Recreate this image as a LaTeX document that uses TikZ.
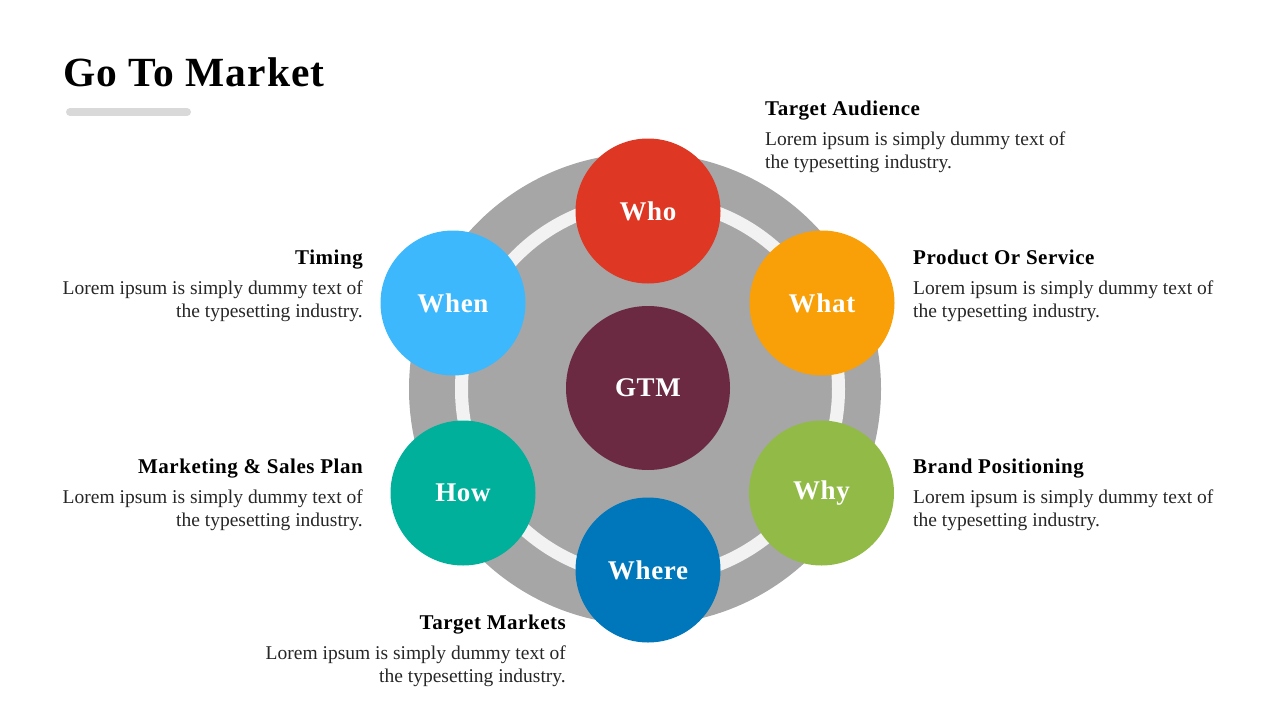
\documentclass[tikz,border=0pt]{standalone}
\usepackage{fontspec}
\setmainfont{Liberation Serif}
\newfontfamily\headfont[LetterSpace=2.5]{Liberation Serif}
\definecolor{ringgray}{HTML}{A6A6A6}
\definecolor{ringwhite}{HTML}{F2F2F2}
\definecolor{barg}{HTML}{D9D9D9}
\definecolor{cwho}{HTML}{DE3723}
\definecolor{cwhat}{HTML}{F99F07}
\definecolor{cwhy}{HTML}{92BA46}
\definecolor{cwhere}{HTML}{0077BB}
\definecolor{chow}{HTML}{00B09A}
\definecolor{cwhen}{HTML}{3DB8FC}
\definecolor{cgtm}{HTML}{6B2942}
\definecolor{bodytxt}{HTML}{262626}
\tikzset{
  bubble/.style={circle, minimum size=145, inner sep=0, text=white,
    font=\headfont\bfseries\fontsize{27}{30}\selectfont},
  head/.style={inner sep=0, font=\headfont\bfseries\fontsize{21}{24}\selectfont, text=black},
  bodyline/.style={inner sep=0, font=\fontsize{19.5}{23}\selectfont, text=bodytxt},
}
\begin{document}
\begin{tikzpicture}[x=1pt,y=-1pt]
\useasboundingbox (0,0) rectangle (1280,720);
% title
\node[anchor=base west, inner sep=0, font=\headfont\bfseries\fontsize{41.5}{46}\selectfont] (title) at (63,86) {Go To Market};
\coordinate (barL) at (70,112);
\coordinate (barR) at (187,112);
\draw[barg, line width=8, line cap=round] (barL) -- (barR);
% wheel
\fill[ringgray] (645,389) circle (236);
\draw[ringwhite, line width=13] (650,389) circle (188.5);
\node[bubble, fill=cgtm, minimum size=164] (gtm) at (648,388) {GTM};
\node[bubble, fill=cwho] (who) at (648,211) {Who};
\node[bubble, fill=cwhat] (what) at (822,303) {What};
\node[bubble, fill=cwhen] (when) at (453,303) {When};
\node[bubble, fill=chow] (how) at (463,493) {How};
\node[bubble, fill=cwhy] (why) at (821.5,493) {Why};
\node[bubble, fill=cwhere] (where) at (648,570) {Where};
% Target Audience
\node[head, anchor=base west] (h1) at (765,115) {Target Audience};
\node[bodyline, anchor=base west] (b1a) at (765,145) {Lorem ipsum is simply dummy text of};
\node[bodyline, anchor=base west] (b1b) at (765,168) {the typesetting industry.};
% Product Or Service
\node[head, anchor=base west] (h2) at (913,264) {Product Or Service};
\node[bodyline, anchor=base west] (b2a) at (913,294) {Lorem ipsum is simply dummy text of};
\node[bodyline, anchor=base west] (b2b) at (913,317) {the typesetting industry.};
% Brand Positioning
\node[head, anchor=base west] (h3) at (913,473) {Brand Positioning};
\node[bodyline, anchor=base west] (b3a) at (913,503) {Lorem ipsum is simply dummy text of};
\node[bodyline, anchor=base west] (b3b) at (913,526) {the typesetting industry.};
% Timing
\node[head, anchor=base east] (h4) at (363,264) {Timing};
\node[bodyline, anchor=base east] (b4a) at (363,294) {Lorem ipsum is simply dummy text of};
\node[bodyline, anchor=base east] (b4b) at (363,317) {the typesetting industry.};
% Marketing & Sales Plan
\node[head, anchor=base east] (h5) at (363,473) {Marketing \& Sales Plan};
\node[bodyline, anchor=base east] (b5a) at (363,503) {Lorem ipsum is simply dummy text of};
\node[bodyline, anchor=base east] (b5b) at (363,526) {the typesetting industry.};
% Target Markets
\node[head, anchor=base east] (h6) at (566,629) {Target Markets};
\node[bodyline, anchor=base east] (b6a) at (566,659) {Lorem ipsum is simply dummy text of};
\node[bodyline, anchor=base east] (b6b) at (566,682) {the typesetting industry.};
\end{tikzpicture}
\end{document}
